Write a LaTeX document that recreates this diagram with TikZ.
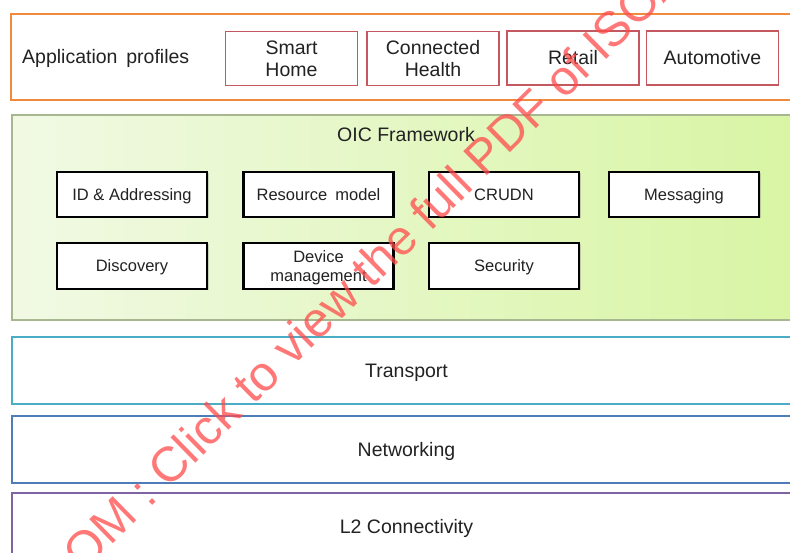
\documentclass[tikz,border=0pt]{standalone}
\usepackage{fontspec}
\setmainfont{Liberation Sans}
\usetikzlibrary{shadows}
\definecolor{txt}{HTML}{222222}
\definecolor{apporange}{HTML}{F08A3C}
\definecolor{profred}{HTML}{C4585E}
\definecolor{oicborder}{HTML}{A7B78F}
\definecolor{oicleft}{HTML}{F1F9E4}
\definecolor{oicright}{HTML}{D8F5A3}
\definecolor{transteal}{HTML}{4BACC6}
\definecolor{netblue}{HTML}{4F7DB8}
\definecolor{l2purple}{HTML}{8064A2}
\definecolor{wmred}{HTML}{FF4A4A}
\tikzset{
  bigtext/.style={font=\fontsize{19.5}{22}\selectfont, text=txt},
  layer/.style={draw, line width=1.8pt, rectangle, minimum width=789pt, minimum height=67pt,
    inner sep=0pt, bigtext, text height=14pt, text depth=0pt, fill=white},
  profbox/.style={draw=profred, line width=1.6pt, rectangle, minimum width=132pt, minimum height=54pt,
    inner sep=0pt, align=center, bigtext, fill=white},
  oicbox/.style={draw=black, line width=2.6pt, rectangle, minimum width=150pt, minimum height=45pt,
    inner sep=0pt, align=center, font=\fontsize{16.5}{19}\selectfont, text=txt, fill=white,
    text height=11.8pt, text depth=0pt,
    drop shadow={shadow xshift=1.5pt, shadow yshift=-1.5pt, opacity=0.35}},
  wm/.style={text=wmred, opacity=0.75, font=\fontsize{49}{49}\selectfont, inner sep=0pt, rotate=44.5}
}
\begin{document}
\begin{tikzpicture}[x=1pt,y=-1pt]
\useasboundingbox (0,0) rectangle (790,553);
\clip (0,0) rectangle (790,553);
\fill[white] (0,0) rectangle (790,553);
% Application profiles layer
\node[draw=apporange, line width=1.8pt, rectangle, minimum width=791pt, minimum height=86pt, inner sep=0pt] (app) at (406.5,57) {};
\node[anchor=west, inner sep=0pt, bigtext, text height=14pt, text depth=0pt] (apptitle) at (22,57) {Application\hspace{0.45em}profiles};
\node[profbox] (smart) at (291.5,58.5) {Smart\\Home};
\node[profbox] (health) at (433,58.5) {Connected\\Health};
\node[profbox, text height=14pt, text depth=0pt] (retail) at (573,58) {Retail};
\node[profbox, text height=14pt, text depth=0pt] (auto) at (712.5,58) {Automotive};
% OIC framework
\node[draw=oicborder, line width=1.2pt, rectangle, minimum width=789pt, minimum height=205pt, inner sep=0pt,
  left color=oicleft, right color=oicright,
  drop shadow={shadow xshift=0.8pt, shadow yshift=-1.5pt, opacity=0.25}] (oic) at (406.5,217.5) {};
\node[inner sep=0pt, bigtext, text height=14pt, text depth=0pt] (oictitle) at (406,135) {OIC Framework};
\node[oicbox] (id) at (132,194.5) {ID \& Addressing};
\node[oicbox] (res) at (318.5,194.5) {Resource\hspace{0.5em}model};
\node[oicbox] (crudn) at (504,194.5) {CRUDN};
\node[oicbox] (msg) at (684,194.5) {Messaging};
\node[oicbox, minimum height=46pt] (disc) at (132,266) {Discovery};
\node[oicbox, minimum height=46pt, text height=, text depth=0pt] (dev) at (318.5,266) {Device\\management};
\node[oicbox, minimum height=46pt] (sec) at (504,266) {Security};
% lower layers
\node[layer, draw=transteal] (trans) at (406.5,370.5) {Transport};
\node[layer, draw=netblue] (net) at (406.5,449.5) {Networking};
\node[layer, draw=l2purple] (l2) at (406.5,526.5) {L2 Connectivity};
% watermark
\coordinate (wmp) at (168,490);
\node[wm, anchor=base east] (wm1) at ([xshift=-9pt,yshift=-9pt]wmp) {STANDARDSISO.COM :};
\node[wm, anchor=base west] (wm2) at (wmp) {Click to view the full PDF of ISO/IEC 30118-1:2018};
\end{tikzpicture}
\end{document}
